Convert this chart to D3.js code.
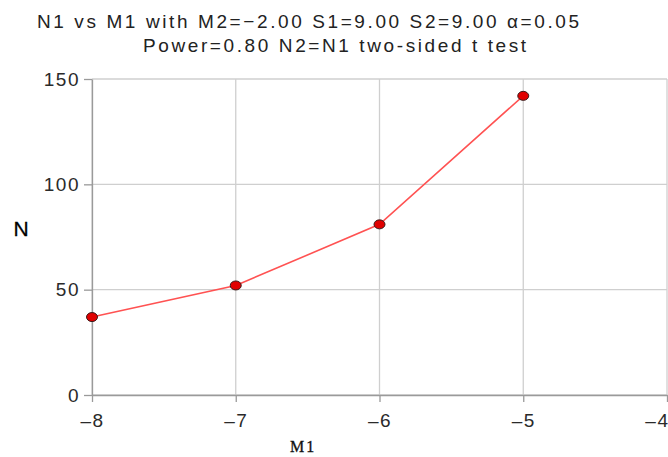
<!DOCTYPE html>
<html>
<head>
<meta charset="utf-8">
<script src="https://cdn.jsdelivr.net/npm/d3@7"></script>
<style>
  body { margin: 0; background: #fff; }
  text { font-family: "Liberation Sans", Arial, sans-serif; }
</style>
</head>
<body>
<svg id="canvas" width="668" height="457"></svg>
<script>
// data
let m1Values = [-8, -7, -6, -5]
let nValues = [37, 52, 81, 142]
let xTicks = [-8, -7, -6, -5, -4]
let yTicks = [0, 50, 100, 150]
let titleLines = ['N1 vs M1 with M2=\u22122.00 S1=9.00 S2=9.00 \u03b1=0.05', 'Power=0.80 N2=N1 two-sided t test']

let canvas = d3.select('#canvas')

let plotLeft = 92, plotRight = 667, plotTop = 79, plotBottom = 395

let xScale = d3.scaleLinear().domain([-8, -4]).range([plotLeft, plotRight])
let yScale = d3.scaleLinear().domain([0, 150]).range([plotBottom, plotTop])

// grid
canvas.append('g').selectAll('line')
    .data(xTicks)
    .enter().append('line')
    .attr('x1', (d) => xScale(d)).attr('x2', (d) => xScale(d))
    .attr('y1', plotTop).attr('y2', plotBottom)
    .attr('stroke', '#cfcfcf').attr('stroke-width', 1.3)

canvas.append('g').selectAll('line')
    .data(yTicks)
    .enter().append('line')
    .attr('x1', plotLeft).attr('x2', plotRight)
    .attr('y1', (d) => yScale(d)).attr('y2', (d) => yScale(d))
    .attr('stroke', '#cfcfcf').attr('stroke-width', 1.3)

let minus = (d) => d < 0 ? '\u2013' + Math.abs(d) : '' + d

let xAxis = d3.axisBottom(xScale).tickValues(xTicks).tickSize(7).tickSizeOuter(0).tickFormat(minus)
let yAxis = d3.axisLeft(yScale).tickValues(yTicks).tickSize(8).tickSizeOuter(0)

let gx = canvas.append('g').attr('transform', 'translate(0,' + plotBottom + ')').call(xAxis)
let gy = canvas.append('g').attr('transform', 'translate(' + plotLeft + ',0)').call(yAxis)

for (let g of [gx, gy]) {
    g.select('.domain').attr('stroke', '#9a9a9a').attr('stroke-width', 1.3)
    g.selectAll('.tick line').attr('stroke', '#9a9a9a').attr('stroke-width', 1.3)
    g.selectAll('.tick text')
        .attr('fill', '#2a2a2a')
        .style('font-family', '"Liberation Sans", Arial, sans-serif')
        .style('font-size', '19px')
        .style('letter-spacing', '1.5px')
}
gx.selectAll('.tick text').attr('dy', '1.15em')
// last label sits flush with the right edge
gx.selectAll('.tick text').filter((d) => d === -4).attr('text-anchor', 'end').attr('x', 2)
gy.selectAll('.tick text').attr('x', -12)

// line
let line = d3.line()
    .x((d, i) => xScale(m1Values[i]))
    .y((d) => yScale(d))

canvas.append('path')
    .datum(nValues)
    .attr('d', line)
    .attr('fill', 'none')
    .attr('stroke', '#ff5252')
    .attr('stroke-width', 1.6)

canvas.append('g').selectAll('ellipse')
    .data(nValues)
    .enter().append('ellipse')
    .attr('cx', (d, i) => xScale(m1Values[i]))
    .attr('cy', (d) => yScale(d))
    .attr('rx', 5.5).attr('ry', 4.5)
    .attr('fill', '#e00000')
    .attr('stroke', '#3a1a1a').attr('stroke-width', 1)

// titles
let titleX = [37, 143]
canvas.selectAll('.title')
    .data(titleLines)
    .enter().append('text')
    .attr('class', 'title')
    .attr('x', (d, i) => titleX[i])
    .attr('y', (d, i) => 28 + i * 24)
    .attr('fill', '#222')
    .style('font-size', '19px')
    .style('letter-spacing', '2.6px')
    .text((d) => d)

canvas.append('text')
    .attr('x', 21).attr('y', 236)
    .attr('text-anchor', 'middle')
    .attr('fill', '#000')
    .style('font-size', '21px')
    .style('stroke', '#000').style('stroke-width', 0.3)
    .text('N')

canvas.append('text')
    .attr('x', 290).attr('y', 452)
    .attr('fill', '#111')
    .style('font-family', '"Liberation Serif", "Times New Roman", serif')
    .style('font-size', '16px')
    .style('letter-spacing', '2px')
    .style('stroke', '#111').style('stroke-width', 0.3)
    .text('M1')
</script>
</body>
</html>
